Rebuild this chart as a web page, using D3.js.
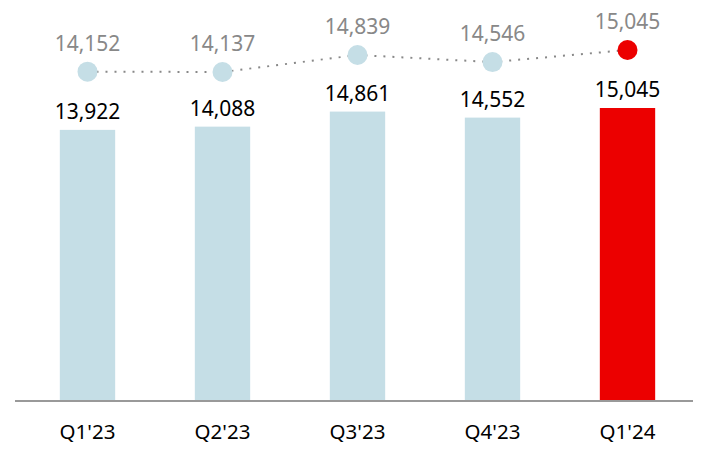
<!DOCTYPE html>
<html>
<head>
<meta charset="utf-8">
<script src="https://cdn.jsdelivr.net/npm/d3@7"></script>
<style>
  body { margin: 0; background: #fff; }
  text { font-family: "Noto Sans", "Open Sans", sans-serif; }
</style>
</head>
<body>
<div id="chart"></div>
<script>
var quarters = ["Q1'23", "Q2'23", "Q3'23", "Q4'23", "Q1'24"];
var barValues = [13922, 14088, 14861, 14552, 15045];
var lineValues = [14152, 14137, 14839, 14546, 15045];

var width = 714, height = 460;
var baseline = 401;

var svg = d3.select('#chart')
  .append('svg')
  .attr('width', width)
  .attr('height', height);

var x = d3.scaleBand()
  .domain(quarters)
  .range([20, 695])
  .paddingInner(0.59)
  .paddingOuter(0.295);

var y = d3.scaleLinear()
  .domain([0, 15045])
  .range([baseline, 108]);

// the line sits on its own small scale above the bars
var yLine = d3.scaleLinear()
  .domain([14137, 15045])
  .range([72, 50]);

var isLast = function(i) { return i === quarters.length - 1; };

svg.selectAll('rect.bar')
  .data(barValues)
  .enter()
  .append('rect')
  .attr('class', 'bar')
  .attr('x', function(_, i) { return x(quarters[i]); })
  .attr('width', x.bandwidth())
  .attr('y', function(d) { return y(d); })
  .attr('height', function(d) { return baseline - y(d); })
  .attr('fill', function(_, i) { return isLast(i) ? '#ec0000' : '#c5dee6'; });

svg.selectAll('text.barlabel')
  .data(barValues)
  .enter()
  .append('text')
  .attr('class', 'barlabel')
  .attr('x', function(_, i) { return x(quarters[i]) + x.bandwidth() / 2; })
  .attr('y', function(d) { return y(d) - 11; })
  .attr('text-anchor', 'middle')
  .attr('font-size', 21)
  .attr('fill', '#000')
  .text(function(d) { return d3.format(',')(d); });

var cx = function(_, i) { return x(quarters[i]) + x.bandwidth() / 2; };

var line = d3.line()
  .x(cx)
  .y(function(d) { return yLine(d); });

svg.append('path')
  .datum(lineValues)
  .attr('d', line)
  .attr('fill', 'none')
  .attr('stroke', '#888')
  .attr('stroke-width', 2)
  .attr('stroke-dasharray', '2,7');

svg.selectAll('circle')
  .data(lineValues)
  .enter()
  .append('circle')
  .attr('cx', cx)
  .attr('cy', function(d) { return yLine(d); })
  .attr('r', 10)
  .attr('fill', function(_, i) { return isLast(i) ? '#ec0000' : '#c5dee6'; });

svg.selectAll('text.linelabel')
  .data(lineValues)
  .enter()
  .append('text')
  .attr('class', 'linelabel')
  .attr('x', cx)
  .attr('y', function(d) { return yLine(d) - 21; })
  .attr('text-anchor', 'middle')
  .attr('font-size', 21)
  .attr('fill', '#888')
  .text(function(d) { return d3.format(',')(d); });

var axis = d3.axisBottom(x).tickSize(0).tickPadding(23);
var gx = svg.append('g')
  .attr('transform', 'translate(0,' + baseline + ')')
  .call(axis);
gx.select('.domain').remove();
gx.selectAll('text')
  .style('font-size', '20.5px')
  .attr('fill', '#000')
  .style('font-family', '"Noto Sans", sans-serif');

svg.append('line')
  .attr('x1', 15)
  .attr('x2', 693)
  .attr('y1', baseline)
  .attr('y2', baseline)
  .attr('stroke', '#999')
  .attr('stroke-width', 2);
</script>
</body>
</html>
